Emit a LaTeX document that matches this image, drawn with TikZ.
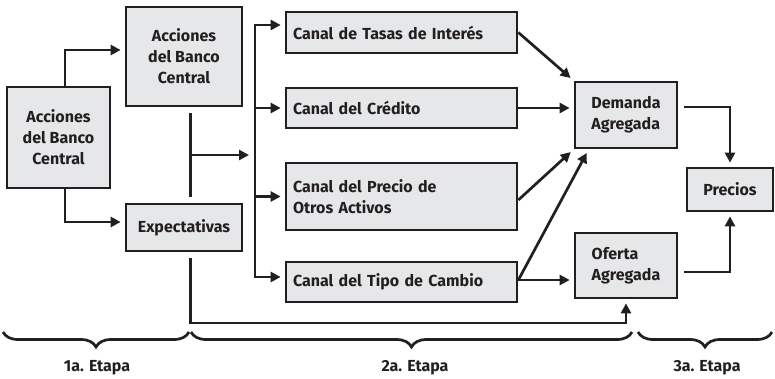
\documentclass[tikz,border=0pt]{standalone}
\usepackage{fontspec}
\setmainfont{Fira Sans}
\usepackage{xcolor}
\usepackage{tikz}
\usetikzlibrary{arrows.meta}
\usetikzlibrary{decorations.pathreplacing}
\definecolor{boxgray}{HTML}{E6E7E8}
\definecolor{ink}{HTML}{231F20}

\begin{document}
\begin{tikzpicture}[x=1pt,y=1pt,
    every node/.style={font=\fontsize{16}{21}\selectfont\bfseries, text=ink},
    box/.style={draw=ink, fill=boxgray, line width=2.7pt, align=center, inner sep=0pt},
    canal/.style={box, align=left, text width=217pt, inner xsep=7pt},
    link/.style={draw=ink, line width=2.7pt},
    arr/.style={link, -{Triangle[length=10pt,width=10pt]}, shorten >=4pt},
    etapa/.style={link, decorate, decoration={brace, mirror, amplitude=15pt}}]
    \useasboundingbox (0,0) rectangle (775,378);
    \node[box, minimum width=103pt, minimum height=101pt] (bcIni) at (58.5,240.5) {Acciones\\del Banco\\Central};
    \node[box, minimum width=116pt, minimum height=99pt] (bcAcc) at (184,321.5) {Acciones\\del Banco\\Central};
    \node[box, minimum width=116pt, minimum height=47pt] (expec) at (184,150.5) {Expectativas};
    \node[canal, minimum height=41pt] (tasas) at (401.5,345.5) {Canal de Tasas de Interés};
    \node[canal, minimum height=40pt] (credito) at (401.5,270) {Canal del Crédito};
    \node[canal, minimum height=67pt] (precio) at (401.5,181.5) {Canal del Precio de\\Otros Activos};
    \node[canal, minimum height=40pt] (tipo) at (401.5,96) {Canal del Tipo de Cambio};
    \node[box, align=left, minimum width=102pt, minimum height=66pt] (demanda) at (626,263) {Demanda\\Agregada};
    \node[box, minimum width=86pt, minimum height=43pt] (precios) at (730,188.5) {Precios};
    \node[box, align=left, minimum width=102pt, minimum height=65pt] (oferta) at (626,112.5) {Oferta\\Agregada};
    \coordinate (busTop) at (255,353);
    \coordinate (busBot) at (255,101);
    \coordinate (junc) at (190.5,223);
    \coordinate (suelo) at (190.5,55);
    \draw[arr] ([xshift=6.5pt]bcIni.north) |- ([yshift=6.5pt]bcAcc.west);
    \draw[arr] ([xshift=6.5pt]bcIni.south) |- ([yshift=5.5pt]expec.west);
    \draw[link, shorten <=6pt, shorten >=6pt] ([xshift=6.5pt]bcAcc.south) -- ([xshift=6.5pt]expec.north);
    \draw[arr, shorten >=6pt] (junc) -- (junc -| busTop);
    \draw[arr, {Triangle[length=10pt,width=10pt]}-{Triangle[length=10pt,width=10pt]}, shorten <=4pt]
      (busTop -| tasas.west) -- (busTop) -- (busBot) -- (busBot -| tipo.west);
    \foreach \canal in {credito, precio}
      \draw[arr] (busTop |- \canal.west) -- (\canal.west);
    \draw[arr, shorten <=6pt] ([xshift=6.5pt]expec.south) |- (suelo -| oferta.south) -- (oferta.south);
    \draw[arr] (tasas.east) -- (demanda.north west);
    \draw[arr] (credito.east) -- (credito.east -| demanda.west);
    \draw[arr] ([yshift=-3.5pt]precio.east) -- (demanda.south west);
    \draw[arr] ([yshift=2pt]tipo.east) -- ([xshift=15pt]demanda.south west);
    \draw[arr] ([yshift=2pt]tipo.east) -- ([yshift=2pt]tipo.east -| oferta.west);
    \draw[arr, shorten <=6pt] ([yshift=8pt]demanda.east) -| (precios.north);
    \draw[arr, shorten <=6pt] ([yshift=-6.5pt]oferta.east) -| (precios.south);
    \draw[etapa] (3,46) -- (189,46);
    \draw[etapa] (191,46) -- (632,46);
    \draw[etapa] (638,46) -- (772,46);
    \node (etapa1) at (97,10) {1a. Etapa};
    \node (etapa2) at (415,10) {2a. Etapa};
    \node (etapa3) at (707,10) {3a. Etapa};
\end{tikzpicture}
\end{document}
